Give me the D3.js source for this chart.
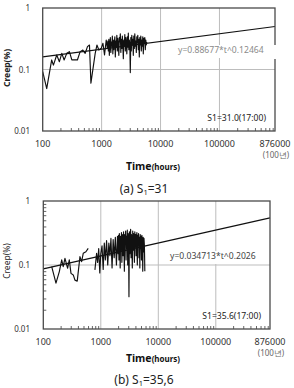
<!DOCTYPE html>
<html>
<head>
<meta charset="utf-8">
<script src="https://cdn.jsdelivr.net/npm/d3@7"></script>
<style>
  body { margin: 0; background: #fff; }
  svg { display: block; font-family: "Noto Sans", "Liberation Sans", sans-serif; }
  .grid { stroke: #bdbdbd; stroke-width: 1; }
  .frame { fill: none; stroke: #4a4a4a; stroke-width: 1.3; }
  .data-line { fill: none; stroke: #111; stroke-width: 1.15; stroke-linejoin: round; }
  .trend { fill: none; stroke: #111; stroke-width: 1.2; }
</style>
</head>
<body>
<svg id="chart" width="294" height="388"></svg>
<script>
// tick values and labels
const xTicks = [100, 1000, 10000, 100000, 876000];
const xTickLabels = ["100", "1000", "10000", "100000", "876000"];
const yTicks = [0.01, 0.1, 1];
const yTickLabels = ["0.01", "0.1", "1"];

// (a) S1=31 : measured creep vs time
const hoursA = [100, 117, 142, 152, 173, 192, 211, 231, 256, 284, 312, 388, 432, 480, 526, 575, 622, 658,
  778, 832, 899, 985, 1053, 1120, 1197,
  1250, 1275, 1300, 1326, 1352, 1379, 1406, 1434, 1462, 1491, 1520, 1550, 1581, 1612, 1644, 1676, 1709, 1743, 1777, 1812,
  1848, 1884, 1921, 1959, 1998, 2037, 2077, 2118, 2160, 2202, 2246, 2290, 2335, 2381, 2428, 2476, 2525, 2574, 2625, 2677,
  2729, 2783, 2838, 2894, 2951, 3009, 3068, 3129, 3190, 3253, 3317, 3383, 3449, 3517, 3587, 3657, 3729, 3803, 3878, 3954,
  4032, 4112, 4193, 4275, 4360, 4446, 4533, 4623, 4714, 4807, 4901, 4998, 5097, 5197, 5300, 5404, 5511, 5619, 5730, 5843];
const creepA = [0.092, 0.049, 0.143, 0.118, 0.172, 0.134, 0.183, 0.143, 0.183, 0.195, 0.143, 0.143, 0.195, 0.207, 0.183, 0.235, 0.25, 0.06,
  0.183, 0.25, 0.207, 0.221, 0.267, 0.172, 0.302,
  0.22, 0.29, 0.2, 0.31, 0.17, 0.26, 0.33, 0.19, 0.28, 0.24, 0.35, 0.18, 0.3, 0.21, 0.27, 0.34, 0.16, 0.29, 0.23, 0.36,
  0.2, 0.32, 0.25, 0.17, 0.33, 0.28, 0.38, 0.19, 0.31, 0.22, 0.35, 0.26, 0.15, 0.3, 0.24, 0.37, 0.2, 0.33, 0.27, 0.18,
  0.34, 0.23, 0.39, 0.21, 0.3, 0.26, 0.089, 0.33, 0.2, 0.36, 0.25, 0.31, 0.17, 0.35, 0.22, 0.38, 0.24, 0.29, 0.19, 0.34,
  0.27, 0.36, 0.21, 0.31, 0.16, 0.33, 0.25, 0.35, 0.2, 0.3, 0.24, 0.34, 0.18, 0.32, 0.27, 0.33, 0.21, 0.3, 0.25, 0.28];
const trendHoursA = [100, 876000];
const trendCreepA = [0.16, 0.5];

// (b) S1=35.6 : measured creep vs time (null = gap in record)
const hoursB = [140, 166, 190, 209, 222, 238, 265, 283, 303, 332, 355, 389, 434, 464, 495, 551, 604, 700,
  790, 845, 880, 920, 960, 1000, 1050, 1100, 1150, 1200, 1260, 1320, 1380, 1440, 1500, 1570, 1640, 1710, 1790, 1870, 1950,
  2000, 2034, 2068, 2103, 2138, 2174, 2211, 2248, 2286, 2325, 2364, 2404, 2444, 2486, 2527, 2570, 2613, 2657, 2702, 2748,
  2794, 2841, 2889, 2938, 2987, 3038, 3089, 3141, 3194, 3248, 3303, 3359, 3415, 3473, 3531, 3591, 3651, 3713, 3775, 3839,
  3904, 3970, 4037, 4105, 4174, 4244, 4316, 4389, 4463, 4538, 4615, 4692, 4772, 4852, 4934, 5017, 5102, 5188, 5275, 5364,
  5455, 5547, 5640, 5735, 5830];
const creepB = [0.094, 0.052, 0.079, 0.12, 0.094, 0.127, 0.089, 0.12, 0.074, 0.07, 0.058, 0.056, 0.135, 0.113, 0.152, 0.161, 0.182, null,
  0.084, 0.152, 0.11, 0.18, 0.075, 0.15, 0.2, 0.085, 0.22, 0.12, 0.24, 0.1, 0.22, 0.14, 0.26, 0.09, 0.25, 0.13, 0.27, 0.1, 0.28,
  0.15, 0.29, 0.12, 0.31, 0.2, 0.09, 0.28, 0.17, 0.32, 0.11, 0.26, 0.3, 0.14, 0.33, 0.19, 0.08, 0.3, 0.22, 0.34, 0.12,
  0.28, 0.18, 0.35, 0.1, 0.31, 0.24, 0.032, 0.33, 0.15, 0.29, 0.36, 0.13, 0.3, 0.21, 0.09, 0.34, 0.17, 0.31, 0.25, 0.11,
  0.33, 0.19, 0.3, 0.14, 0.28, 0.32, 0.1, 0.29, 0.2, 0.31, 0.13, 0.27, 0.09, 0.3, 0.18, 0.28, 0.12, 0.29, 0.22, 0.08,
  0.27, 0.16, 0.26, 0.2, 0.08];
const trendHoursB = [100, 876000];
const trendCreepB = [0.087, 0.545];

const svg = d3.select("#chart");

function drawPanel(cfg) {
  const x = d3.scaleLog().domain([100, 876000]).range([cfg.left, cfg.right]);
  const y = d3.scaleLog().domain([0.01, 1]).range([cfg.bottom, cfg.top]);
  const g = svg.append("g");

  // gridlines
  g.selectAll(".vgrid").data(xTicks.slice(1, -1)).enter().append("line")
    .attr("class", "grid")
    .attr("x1", d => x(d)).attr("x2", d => x(d))
    .attr("y1", cfg.top).attr("y2", cfg.bottom);
  g.append("line").attr("class", "grid")
    .attr("x1", cfg.left).attr("x2", cfg.right)
    .attr("y1", y(0.1)).attr("y2", y(0.1));

  // minor ticks on the bottom axis (inside)
  const minors = [];
  for (let dec = 100; dec < 876000; dec *= 10) {
    for (let k = 2; k <= 9; k++) if (dec * k < 876000) minors.push(dec * k);
  }
  g.append("g")
    .attr("transform", `translate(0,${cfg.bottom})`)
    .call(d3.axisTop(x).tickValues(minors).tickSize(3).tickFormat(""))
    .call(a => a.select(".domain").remove())
    .selectAll("line").attr("stroke", "#666");

  if (cfg.leftMinor) {
    const ym = [0.02, 0.03, 0.04, 0.05, 0.06, 0.07, 0.08, 0.09, 0.2, 0.3, 0.4, 0.5, 0.6, 0.7, 0.8, 0.9];
    g.append("g")
      .attr("transform", `translate(${cfg.left},0)`)
      .call(d3.axisRight(y).tickValues(ym).tickSize(3).tickFormat(""))
      .call(a => a.select(".domain").remove())
      .selectAll("line").attr("stroke", "#666");
  }

  // trend line
  const trend = cfg.trendHours.map((h, i) => ({h: h, c: cfg.trendCreep[i]}));
  g.append("path").datum(trend).attr("class", "trend")
    .attr("d", d3.line().x(d => x(d.h)).y(d => y(d.c)));

  // measured data
  const pts = cfg.hours.map((h, i) => ({h: h, c: cfg.creep[i]}));
  g.append("path").datum(pts).attr("class", "data-line")
    .attr("d", d3.line().defined(d => d.c != null).x(d => x(d.h)).y(d => y(d.c)));

  // equation label with white box
  g.append("rect").attr("x", cfg.eqX - 4).attr("y", cfg.eqY - 8)
    .attr("width", cfg.eqW).attr("height", 13).attr("fill", "#fff");
  g.append("text").attr("x", cfg.eqX).attr("y", cfg.eqY)
    .attr("font-size", 8.6).attr("fill", cfg.eqColor).text(cfg.equation);

  // frame
  g.append("rect").attr("class", "frame")
    .attr("x", cfg.left).attr("y", cfg.top)
    .attr("width", cfg.right - cfg.left).attr("height", cfg.bottom - cfg.top);
  if (cfg.eqCoverFrame) {
    g.append("rect").attr("x", cfg.right - 1).attr("y", cfg.eqY - 8)
      .attr("width", 3).attr("height", 14).attr("fill", "#fff");
  }

  g.append("text").attr("x", cfg.right - 9).attr("y", cfg.sY)
    .attr("text-anchor", "end").attr("font-size", 8.6).attr("fill", "#222")
    .text(cfg.sLabel);

  // y tick labels
  g.selectAll(".ylab").data(yTicks).enter().append("text")
    .attr("x", 30).attr("y", d => y(d) + 3)
    .attr("text-anchor", "end").attr("font-size", 8).attr("fill", "#333")
    .text((d, i) => yTickLabels[i]);

  // x tick labels
  g.selectAll(".xlab").data(xTicks).enter().append("text")
    .attr("x", d => x(d)).attr("y", cfg.bottom + 16)
    .attr("text-anchor", "middle").attr("font-size", 9).attr("fill", "#333")
    .text((d, i) => xTickLabels[i]);
  g.append("text").attr("x", x(876000) + 1).attr("y", cfg.bottom + 27)
    .attr("text-anchor", "middle").attr("font-size", 8).attr("fill", "#666")
    .text("(100년)");

  // axis titles
  const xt = g.append("text").attr("x", cfg.timeX).attr("y", cfg.timeY)
    .attr("text-anchor", "middle").attr("fill", "#111");
  xt.append("tspan").attr("font-size", 10.5).attr("font-weight", "bold").text("Time");
  xt.append("tspan").attr("font-size", 8).attr("font-weight", "bold").text("(hours)");

  g.append("text")
    .attr("transform", `translate(${cfg.creepX},${cfg.creepY}) rotate(-90)`)
    .attr("text-anchor", "middle").attr("font-size", 8.5)
    .attr("font-weight", cfg.creepBold ? "bold" : "normal").attr("fill", "#222")
    .text("Creep(%)");

  // caption
  const cap = g.append("text").attr("x", cfg.capX).attr("y", cfg.capY)
    .attr("text-anchor", "middle").attr("font-size", 12).attr("fill", "#222");
  cap.append("tspan").text(cfg.capPrefix + "  S");
  cap.append("tspan").attr("font-size", 7.5).attr("dy", 2).text("1");
  cap.append("tspan").attr("dy", -2).text("=" + cfg.capValue);
}

drawPanel({
  left: 42.7, right: 275, top: 8, bottom: 131,
  hours: hoursA, creep: creepA, trendHours: trendHoursA, trendCreep: trendCreepA,
  equation: "y=0.88677*t^0.12464", eqX: 178, eqY: 53, eqW: 104, eqColor: "#8a8a8a", eqCoverFrame: true,
  sLabel: "S1=31.0(17:00)", sY: 121,
  timeX: 153, timeY: 170, creepX: 10, creepY: 68, creepBold: true,
  capX: 144, capY: 193, capPrefix: "(a)", capValue: "31", leftMinor: false
});

drawPanel({
  left: 43.3, right: 270, top: 201, bottom: 329,
  hours: hoursB, creep: creepB, trendHours: trendHoursB, trendCreep: trendCreepB,
  equation: "y=0.034713*t^0.2026", eqX: 170, eqY: 259, eqW: 98, eqColor: "#444", eqCoverFrame: false,
  sLabel: "S1=35.6(17:00)", sY: 319,
  timeX: 153, timeY: 362, creepX: 10, creepY: 261, creepBold: false,
  capX: 144, capY: 384, capPrefix: "(b)", capValue: "35,6", leftMinor: true
});
</script>
</body>
</html>
